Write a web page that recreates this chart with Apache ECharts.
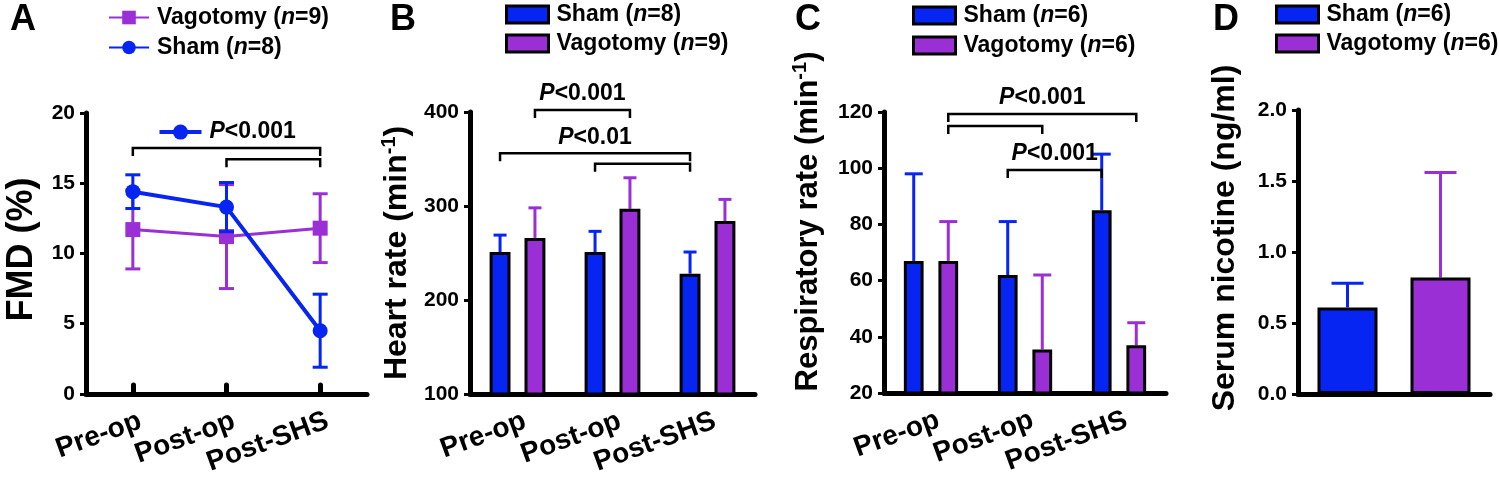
<!DOCTYPE html>
<html>
<head>
<meta charset="utf-8">
<title>FMD, heart rate, respiratory rate, serum nicotine</title>
<script src="https://cdn.jsdelivr.net/npm/echarts@6/dist/echarts.min.js"></script>
<style>
  html, body { margin: 0; padding: 0; background: #fff; }
  #chart { width: 1499px; height: 478px; }
</style>
</head>
<body>
<div id="chart"></div>
<script>
const categories = ['Pre-op', 'Post-op', 'Post-SHS']

// A - FMD (%), mean and error
const fmdSham = [14.4, 13.3, 4.5]
const fmdShamErr = [1.2, 1.75, 2.6]
const fmdVago = [11.7, 11.2, 11.8]
const fmdVagoErr = [2.8, 3.7, 2.45]

// B - heart rate (min-1)
const hrSham = [251, 251, 228]
const hrShamErr = [18, 22, 23]
const hrVago = [266, 297, 284]
const hrVagoErr = [32, 33, 23]

// C - respiratory rate (min-1)
const rrSham = [67, 62, 85]
const rrShamErr = [31, 19, 20]
const rrVago = [67, 35.5, 37]
const rrVagoErr = [14, 26.5, 8]

// D - serum nicotine (ng/ml)
const nicSham = [0.61]
const nicShamErr = [0.17]
const nicVago = [0.82]
const nicVagoErr = [0.74]

// significance brackets: [fromCategory, fromSlot, toCategory, toSlot, level]
// slot -1 = sham bar, 1 = vagotomy bar, 0 = category centre
const bracketsA = [[0, 0, 2, 0, 17.5], [1, 0, 2, 0, 16.7]]
const pTextA = ['P<0.001', '']
const bracketsB = [[0, 1, 1, 1, 402], [0, -1, 2, -1, 356], [1, -1, 2, -1, 345]]
const pTextB = ['P<0.001', 'P<0.01', '']
const bracketsC = [[0, 1, 2, 1, 119.3], [0, 1, 1, 1, 115], [1, -1, 2, -1, 99.4]]
const pTextC = ['P<0.001', '', 'P<0.001']

const legendText = {
  'A-Vago': ['Vagotomy', 9], 'A-Sham': ['Sham', 8],
  'B-Sham': ['Sham', 8], 'B-Vago': ['Vagotomy', 9],
  'C-Sham': ['Sham', 6], 'C-Vago': ['Vagotomy', 6],
  'D-Sham': ['Sham', 6], 'D-Vago': ['Vagotomy', 6]
}

const BLUE = '#0624f2'
const PURPLE = '#9a2fd6'
const FONT = '"Liberation Sans", Arial, Helvetica, sans-serif'

const chart = echarts.init(document.getElementById('chart'))

const bold = (size, extra) => Object.assign({ fontSize: size, fontWeight: 'bold', fontFamily: FONT, color: '#000' }, extra || {})

const legendRich = {
  t: bold(23, { lineHeight: 26 }),
  i: bold(23, { lineHeight: 26, fontStyle: 'italic' })
}
const pRich = {
  t: bold(23),
  i: bold(23, { fontStyle: 'italic' })
}

function legendLabel(name) {
  const [g, n] = legendText[name]
  return '{t|' + g + ' (}{i|n}{t|=' + n + ')}'
}

function legend(data, left, top, w, h, gap, icon) {
  const l = {
    data, left, top, orient: 'vertical', padding: 0,
    itemWidth: w, itemHeight: h, itemGap: gap, selectedMode: false,
    formatter: legendLabel,
    textStyle: { rich: legendRich, padding: [0, 0, 0, 3] }
  }
  if (icon) {
    l.icon = icon
    l.itemStyle = { borderColor: '#000', borderWidth: 3 }
  }
  return l
}

function xAxis(gridIndex, data, showLabels, ticks) {
  return {
    type: 'category', gridIndex, data,
    axisLine: { lineStyle: { color: '#000', width: 5 } },
    axisTick: ticks
      ? { show: true, inside: true, alignWithLabel: true, length: 9, lineStyle: { color: '#000', width: 5, cap: 'round' } }
      : { show: false },
    axisLabel: Object.assign({ show: showLabels, rotate: 20, margin: 29, interval: 0, padding: [0, -8, 0, 0] }, bold(28)),
    splitLine: { show: false }
  }
}

function yAxis(gridIndex, min, max, interval, name, nameGap, nameStyle, fmt) {
  return {
    type: 'value', gridIndex, min, max, interval,
    name, nameLocation: 'middle', nameRotate: 90, nameGap,
    nameTextStyle: nameStyle,
    axisLine: { show: true, lineStyle: { color: '#000', width: 5 } },
    axisTick: { show: true, length: 6, lineStyle: { color: '#000', width: 3 } },
    axisLabel: Object.assign({ margin: 11, formatter: fmt }, bold(21)),
    splitLine: { show: false }
  }
}

function barSeries(name, idx, data, color, barWidth, barGap) {
  return {
    name, type: 'bar', xAxisIndex: idx, yAxisIndex: idx, data,
    barWidth, barGap, z: 3,
    itemStyle: { color, borderColor: '#000', borderWidth: 3 }
  }
}

// pitch = distance between the two bar centres of a group, as a share of the band
function errorBars(idx, means, errs, color, slot, pitch, capWidth, both, z) {
  return {
    type: 'custom', xAxisIndex: idx, yAxisIndex: idx, silent: true, z,
    data: means.map((m, i) => [i, m, errs[i]]),
    encode: { x: 0, y: 1 },
    renderItem(params, api) {
      const i = api.value(0), m = api.value(1), e = api.value(2)
      const band = api.size([1, 0])[0]
      const x = api.coord([i, m])[0] + slot * band * pitch / 2
      const yTop = api.coord([i, m + e])[1]
      const yBot = api.coord([i, both ? m - e : m])[1]
      const h = capWidth / 2
      const style = { stroke: color, lineWidth: 3, fill: null }
      const children = [
        { type: 'line', shape: { x1: x, y1: yTop, x2: x, y2: yBot }, style },
        { type: 'line', shape: { x1: x - h, y1: yTop, x2: x + h, y2: yTop }, style }
      ]
      if (both) children.push({ type: 'line', shape: { x1: x - h, y1: yBot, x2: x + h, y2: yBot }, style })
      return { type: 'group', children }
    }
  }
}

function bracketSeries(idx, rows, texts, pitch, marker) {
  return {
    type: 'custom', xAxisIndex: idx, yAxisIndex: idx, silent: true, z: 10, clip: false,
    data: rows,
    encode: { x: [0, 2], y: 4 },
    renderItem(params, api) {
      const band = api.size([1, 0])[0]
      const x1 = api.coord([api.value(0), 0])[0] + api.value(1) * band * pitch / 2
      const x2 = api.coord([api.value(2), 0])[0] + api.value(3) * band * pitch / 2
      const y = api.coord([0, api.value(4)])[1]
      const leg = 8
      const children = [{
        type: 'polyline',
        shape: { points: [[x1, y + leg], [x1, y], [x2, y], [x2, y + leg]] },
        style: { stroke: '#000', lineWidth: 2.5, fill: null }
      }]
      const t = texts[params.dataIndex]
      if (t) {
        const cx = (x1 + x2) / 2
        const cy = y - 16
        const rich = '{i|' + t[0] + '}{t|' + t.slice(1) + '}'
        if (marker) {
          children.push({ type: 'line', shape: { x1: cx - 67, y1: cy, x2: cx - 25, y2: cy }, style: { stroke: marker, lineWidth: 4 } })
          children.push({ type: 'circle', shape: { cx: cx - 46, cy, r: 7.5 }, style: { fill: marker } })
          children.push({ type: 'text', x: cx - 17, y: cy, style: { text: rich, rich: pRich, align: 'left', verticalAlign: 'middle' } })
        } else {
          children.push({ type: 'text', x: cx, y: cy, style: { text: rich, rich: pRich, align: 'center', verticalAlign: 'middle' } })
        }
      }
      return { type: 'group', children }
    }
  }
}

// bar geometry (share of category band)
const pitchB = 0.22 * 1.67
const pitchC = 0.21 * 1.75
const pitchD = 0.3125 * 1.55

const supRich = size => ({
  t: bold(size, { lineHeight: 36 }),
  s: bold(20, { verticalAlign: 'top', lineHeight: 20 })
})

chart.setOption({
  animation: false,
  backgroundColor: '#fff',
  title: [['A', 10], ['B', 390], ['C', 795], ['D', 1213]].map(([t, x]) => ({
    text: t, left: x, top: 2, padding: 0, textStyle: bold(36)
  })),
  legend: [
    legend(['A-Vago', 'A-Sham'], 108, 6, 40, 17, 7),
    legend(['B-Sham', 'B-Vago'], 505, 3, 42, 17, 6, 'rect'),
    legend(['C-Sham', 'C-Vago'], 912, 4, 42, 17, 7, 'rect'),
    legend(['D-Sham', 'D-Vago'], 1275, 3, 42, 17, 6, 'rect')
  ],
  grid: [
    { left: 86, top: 113, width: 281, height: 282 },
    { left: 470, top: 112, width: 285, height: 282 },
    { left: 884, top: 112, width: 282, height: 281 },
    { left: 1298, top: 110, width: 192, height: 284 }
  ],
  xAxis: [
    xAxis(0, categories, true, true),
    xAxis(1, categories, true, false),
    xAxis(2, categories, true, false),
    xAxis(3, [''], false, false)
  ],
  yAxis: [
    yAxis(0, 0, 20, 5, 'FMD (%)', 46, bold(36, { padding: [0, 0, 0, 8] })),
    yAxis(1, 100, 400, 100, '{t|Heart rate (min}{s|-1}{t|)}', 55, bold(32, { rich: supRich(32) })),
    yAxis(2, 20, 120, 20, '{t|Respiratory rate (min}{s|-1}{t|)}', 58, bold(31, { rich: supRich(31), padding: [0, 0, 0, 62] })),
    yAxis(3, 0, 2, 0.5, 'Serum nicotine (ng/ml)', 57, bold(32, { padding: [0, 0, 0, 28] }), v => v.toFixed(1))
  ],
  series: [
    // A
    errorBars(0, fmdVago, fmdVagoErr, PURPLE, 0, 0, 15, true, 2),
    {
      name: 'A-Vago', type: 'line', xAxisIndex: 0, yAxisIndex: 0, data: fmdVago,
      symbol: 'rect', symbolSize: 15, z: 3,
      lineStyle: { color: PURPLE, width: 3 }, itemStyle: { color: PURPLE }
    },
    errorBars(0, fmdSham, fmdShamErr, BLUE, 0, 0, 15, true, 4),
    {
      name: 'A-Sham', type: 'line', xAxisIndex: 0, yAxisIndex: 0, data: fmdSham,
      symbol: 'circle', symbolSize: 15, z: 5,
      lineStyle: { color: BLUE, width: 4 }, itemStyle: { color: BLUE }
    },
    bracketSeries(0, bracketsA, pTextA, 0, BLUE),

    // B
    barSeries('B-Sham', 1, hrSham, BLUE, '22%', '67%'),
    barSeries('B-Vago', 1, hrVago, PURPLE, '22%', '67%'),
    errorBars(1, hrSham, hrShamErr, BLUE, -1, pitchB, 13, false, 2),
    errorBars(1, hrVago, hrVagoErr, PURPLE, 1, pitchB, 13, false, 2),
    bracketSeries(1, bracketsB, pTextB, pitchB),

    // C
    barSeries('C-Sham', 2, rrSham, BLUE, '21%', '75%'),
    barSeries('C-Vago', 2, rrVago, PURPLE, '21%', '75%'),
    errorBars(2, rrSham, rrShamErr, BLUE, -1, pitchC, 18, false, 2),
    errorBars(2, rrVago, rrVagoErr, PURPLE, 1, pitchC, 18, false, 2),
    bracketSeries(2, bracketsC, pTextC, pitchC),

    // D
    barSeries('D-Sham', 3, nicSham, BLUE, '31.25%', '55%'),
    barSeries('D-Vago', 3, nicVago, PURPLE, '31.25%', '55%'),
    errorBars(3, nicSham, nicShamErr, BLUE, -1, pitchD, 32, false, 2),
    errorBars(3, nicVago, nicVagoErr, PURPLE, 1, pitchD, 32, false, 2)
  ]
})
</script>
</body>
</html>
